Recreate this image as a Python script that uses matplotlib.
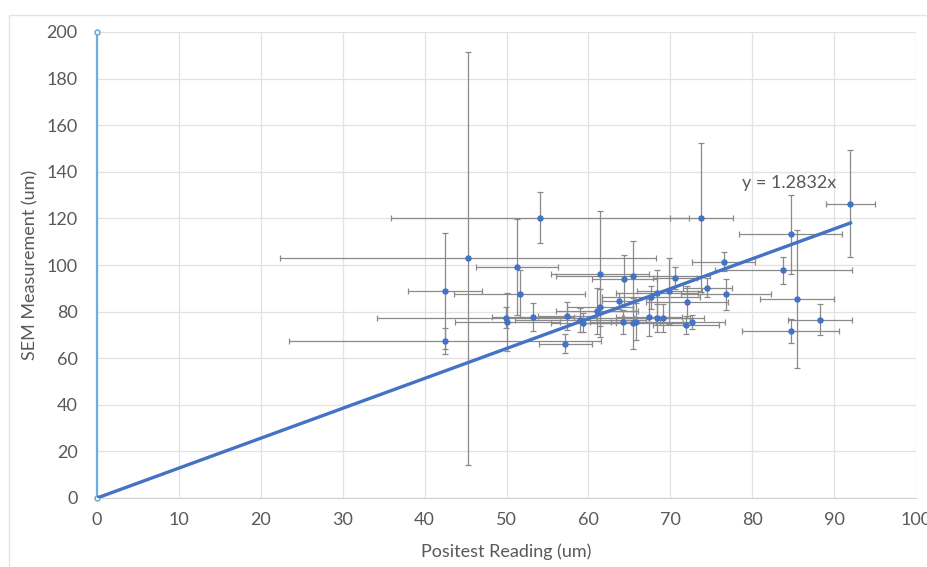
import matplotlib
matplotlib.use("Agg")
import matplotlib.pyplot as plt
from matplotlib.patches import Rectangle
import numpy as np

plt.rcParams['font.family'] = ['Lato', 'DejaVu Sans']

# Positest reading (um), SEM measurement (um), and their errors
positest = [42.5, 42.5, 45.3, 54.1, 51.3, 51.6, 49.9, 50.1, 53.2, 57.2,
            57.4, 59.0, 59.4, 61.0, 61.4, 61.4, 63.7, 64.4, 65.4, 64.2,
            65.5, 65.8, 67.4, 68.4, 69.1, 67.6, 68.4, 69.9, 70.6, 72.0,
            71.9, 72.7, 73.8, 74.5, 76.5, 76.8, 83.8, 84.7, 85.5, 88.3,
            84.7, 92.0]
sem = [88.8, 67.4, 102.8, 120.3, 99.1, 87.7, 77.4, 75.7, 77.6, 66.2,
       78.2, 76.4, 75.2, 80.3, 81.9, 96.0, 84.5, 93.8, 95.1, 75.5,
       75.0, 75.7, 77.6, 77.1, 77.1, 86.1, 88.0, 88.8, 94.4, 84.1,
       74.2, 75.7, 120.3, 90.3, 101.4, 87.4, 97.7, 113.2, 85.5, 76.5,
       71.7, 126.3]
positest_err = [4.5, 19.0, 23.0, 18.2, 5.0, 8.0, 15.7, 6.4, 5.0, 3.2,
                3.5, 8.0, 4.0, 5.0, 4.0, 6.0, 2.0, 4.0, 9.4, 4.0,
                6.0, 3.0, 4.0, 4.0, 5.0, 6.0, 5.0, 4.0, 2.7, 5.0,
                4.0, 4.0, 3.8, 3.0, 3.8, 5.5, 8.4, 6.3, 4.5, 3.9,
                5.9, 3.0]
sem_err = [25.0, 5.6, 88.5, 11.0, 20.5, 10.0, 4.5, 12.4, 6.0, 4.0,
           6.0, 5.0, 4.0, 10.0, 8.0, 27.0, 3.5, 10.4, 15.0, 5.0,
           11.0, 8.0, 8.0, 6.0, 6.0, 5.0, 10.0, 14.0, 4.6, 7.0,
           4.0, 3.0, 32.0, 4.0, 4.0, 6.8, 5.7, 17.0, 29.6, 6.7,
           5.0, 23.0]

slope = 1.2832
axis_line_x = [0, 0]
axis_line_y = [0, 200]

x_ticks = list(range(0, 101, 10))
y_ticks = list(range(0, 201, 20))

fig = plt.figure(figsize=(9.28, 5.67), dpi=100)
fig.patches.append(Rectangle((9/928, -0.1), 1.2, 1 - 15/567 + 0.1,
                             transform=fig.transFigure, fill=False,
                             edgecolor='#e3e3e3', linewidth=1))
ax = fig.add_axes([97/928, 1 - 498/567, 819/928, (498 - 32)/567])

ax.set_xlim(0, 100)
ax.set_ylim(0, 200)
ax.set_xticks(x_ticks)
ax.set_yticks(y_ticks)
ax.grid(True, color='#e2e2e2', linewidth=0.9)
ax.set_axisbelow(True)
for s in ['top', 'right', 'left']:
    ax.spines[s].set_visible(False)
ax.spines['bottom'].set_color('#d0d0d0')
ax.tick_params(length=0, labelsize=13, colors='#595959')
ax.tick_params(axis='x', pad=10)
ax.tick_params(axis='y', pad=14)

# light-blue vertical series at x = 0
ax.plot(axis_line_x, axis_line_y, color='#6AAEE4', linewidth=1.6,
        marker='o', markersize=3.5, markerfacecolor='white',
        markeredgecolor='#6AAEE4', markeredgewidth=1.2, zorder=3, clip_on=False)

ax.errorbar(positest, sem, xerr=positest_err, yerr=sem_err, fmt='o',
            color='#4472C4', markersize=3.6, ecolor='#8a8a8a', elinewidth=0.9,
            capsize=2, capthick=0.9, zorder=4)

xfit = np.array([0, max(positest)])
ax.plot(xfit, slope * xfit, color='#4472C4', linewidth=2.4, zorder=5)

ax.text(78.8, 135, 'y = 1.2832x', fontsize=13, color='#595959',
        ha='left', va='center')

ax.set_xlabel('Positest Reading (um)', fontsize=13, color='#595959', labelpad=11)
ax.set_ylabel('SEM Measurement (um)', fontsize=13, color='#595959', labelpad=6)

fig.savefig('out.png', dpi=100)
